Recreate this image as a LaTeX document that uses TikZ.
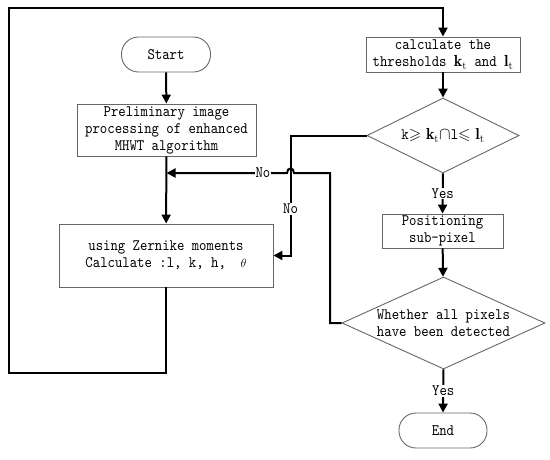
\documentclass[tikz,border=0pt]{standalone}
\usepackage{amssymb}
\usepackage{fontspec}
\setmonofont{lmmono10-regular.otf}[FakeStretch=0.88]
\usetikzlibrary{shapes.geometric,arrows.meta}
\begin{document}
\begin{tikzpicture}[x=1pt,y=-1pt,
 txtfont/.style={font=\fontsize{16}{17}\selectfont\ttfamily},
 box/.style={draw=black!60, line width=0.9pt, rectangle, inner sep=0pt, align=center, txtfont},
 pill/.style={box, rounded corners=17pt},
 dia/.style={draw=black!60, line width=0.9pt, diamond, inner sep=0pt},
 txt/.style={align=center, inner sep=0pt, txtfont},
 line/.style={line width=2pt},
 conn/.style={line width=2pt, -{Triangle[length=9pt,width=9pt]}},
 lab/.style={fill=white, inner sep=1pt, txtfont}
]
\useasboundingbox (0,0) rectangle (550,459);
\node[pill, minimum width=89pt, minimum height=35pt] (start) at (166,54.5) {Start};
\node[box, minimum width=179pt, minimum height=52pt] (pre) at (166.5,130) {Preliminary image\\processing of enhanced\\MHWT algorithm};
\node[box, minimum width=214pt, minimum height=63pt] (zer) at (166,255.5) {using Zernike moments\\Calculate :l, k, h, \ {\fontsize{12}{17}\selectfont$\theta$}};
\node[box, minimum width=154pt, minimum height=35pt] (calc) at (443,54.5) {calculate the\\thresholds $\mathbf{k}_\mathrm{t}$ and $\mathbf{l}_\mathrm{t}$};
\node[dia, minimum width=152pt, minimum height=75pt] (d1) at (443,135.5) {};
\node[txt] (d1t) at (d1) {k$\geqslant\mathbf{k}_\mathrm{t}\cap$l$\leqslant\mathbf{l}_\mathrm{t}$};
\node[box, minimum width=121pt, minimum height=34pt] (pos) at (442.5,231) {Positioning\\sub-pixel};
\node[dia, minimum width=203pt, minimum height=92pt] (d2) at (443.5,323) {};
\node[txt] (d2t) at (d2) {Whether all pixels\\have been detected};
\node[pill, minimum width=88pt, minimum height=35pt] (end) at (443,430.5) {End};

\coordinate (c1) at (9,373);
\coordinate (c2) at (9,8);
\coordinate (n1) at (290.5,135.5);
\coordinate (n2) at (330,173);
\coordinate (h1) at (294,173);
\coordinate (h2) at (287,173);

\draw[conn] (start) -- (pre);
\draw[conn] (pre) -- (zer);
\draw[conn] (zer.south) -- (zer.south |- c1) -- (c1) -- (c2) -- (c2 -| calc.north) -- (calc.north);
\draw[conn] (calc) -- (d1);
\draw[conn] (d1.south) -- node[lab]{Yes} (pos.north);
\draw[conn] (pos) -- (d2);
\draw[conn] (d2.south) -- node[lab]{Yes} (end.north);
\draw[conn] (d1.west) -- (n1) -- node[lab, pos=0.61]{No} (n1 |- zer.east) -- (zer.east);
\draw[conn] (d2.west) -- (d2.west -| n2) -- (n2) -- (h1) .. controls (294,167) and (287,167) .. (h2) -- node[lab, pos=0.2]{No} (pre.south |- n2);
\end{tikzpicture}
\end{document}
